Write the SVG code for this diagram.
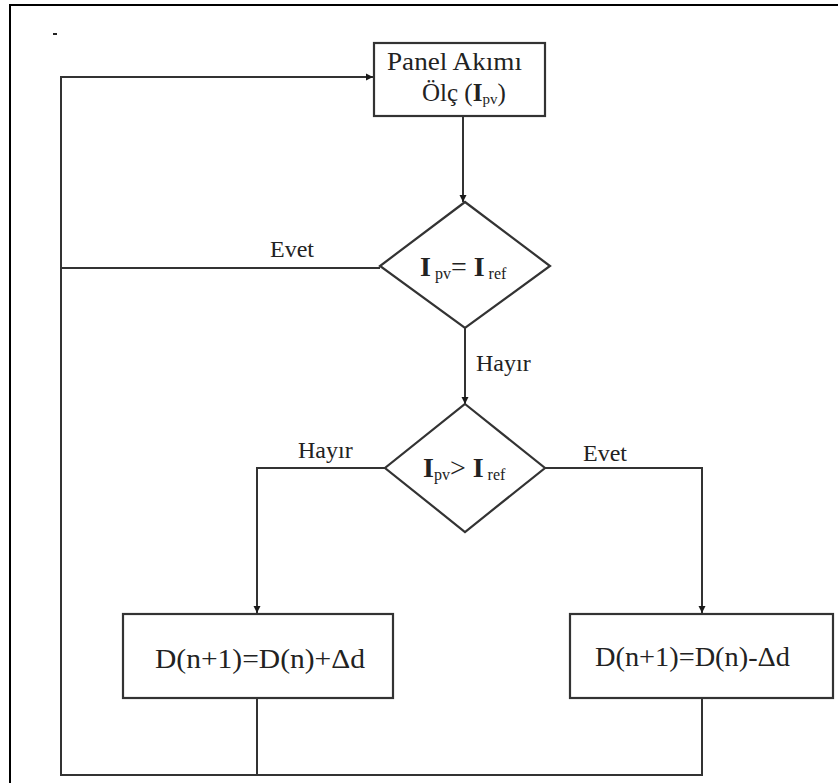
<svg xmlns="http://www.w3.org/2000/svg" width="838" height="783" viewBox="0 0 838 783">
  <defs>
    <marker id="arrow" viewBox="0 0 10 10" refX="10" refY="5" markerWidth="7" markerHeight="8" orient="auto" markerUnits="userSpaceOnUse">
      <path d="M0,0 L10,5 L0,10 z" fill="#1a1a1a"/>
    </marker>
    <style>
      .shape { fill: #ffffff; stroke: #333333; stroke-width: 2.2; }
      .wire { fill: none; stroke: #333333; stroke-width: 2; }
      text { fill: #222222; font-family: "Liberation Serif", "Times New Roman", serif; }
      .frame { fill: none; stroke: #000000; stroke-width: 2; }
    </style>
  </defs>

  <rect x="0" y="0" width="838" height="783" fill="#ffffff"/>
  <!-- outer frame: top and left edges -->
  <path class="frame" d="M838,5 H10 V783"/>
  <line x1="53" y1="34" x2="57" y2="34" stroke="#222" stroke-width="2"/>

  <g id="connectors">
    <!-- measure -> first decision -->
    <line class="wire" x1="463" y1="116" x2="463" y2="202" marker-end="url(#arrow)"/>
    <!-- first decision (no) -> second decision -->
    <line class="wire" x1="465" y1="328" x2="465" y2="404" marker-end="url(#arrow)"/>
    <!-- first decision (yes) back to loop -->
    <line class="wire" x1="380" y1="268" x2="61" y2="268"/>
    <!-- second decision (no) -> increase duty -->
    <path class="wire" d="M386,468 H257 V613" marker-end="url(#arrow)"/>
    <!-- second decision (yes) -> decrease duty -->
    <path class="wire" d="M545,468 H702 V613" marker-end="url(#arrow)"/>
    <!-- outputs back to measurement -->
    <line class="wire" x1="257" y1="698" x2="257" y2="775"/>
    <path class="wire" d="M702,698 V775 H61 V77 H373" marker-end="url(#arrow)"/>
    <!-- branch labels -->
    <text font-size="24" x="270" y="257">Evet</text>
    <text font-size="24" x="476" y="371">Hayır</text>
    <text font-size="24" x="298" y="458">Hayır</text>
    <text font-size="24" x="583" y="461">Evet</text>
  </g>

  <g id="measure">
    <rect class="shape" x="374" y="43" width="171" height="73"/>
    <text font-size="25" x="387" y="70" textLength="135" lengthAdjust="spacingAndGlyphs">Panel Akımı</text>
    <text font-size="25" x="422" y="101">Ölç (<tspan font-weight="bold">I</tspan><tspan font-size="15" dy="3">pv</tspan><tspan dy="-3">)</tspan></text>
  </g>

  <g id="decision-equal">
    <polygon class="shape" points="465,202 550,266 465,328 380,266"/>
    <text x="420" y="276" font-size="28"><tspan font-weight="bold">I</tspan><tspan font-size="16" dy="3"> pv</tspan><tspan dy="-3">= </tspan><tspan font-weight="bold">I</tspan><tspan font-size="16" dy="3"> ref</tspan></text>
  </g>

  <g id="decision-greater">
    <polygon class="shape" points="465,404 545,468 465,532 385,468"/>
    <text x="423" y="477" font-size="28"><tspan font-weight="bold">I</tspan><tspan font-size="16" dy="3">pv</tspan><tspan dy="-3">&gt; </tspan><tspan font-weight="bold">I</tspan><tspan font-size="16" dy="3"> ref</tspan></text>
  </g>

  <g id="increase">
    <rect class="shape" x="123" y="614" width="270" height="84"/>
    <text font-size="27" x="155" y="668" textLength="210" lengthAdjust="spacingAndGlyphs">D(n+1)=D(n)+Δd</text>
  </g>

  <g id="decrease">
    <rect class="shape" x="570" y="614" width="263" height="84"/>
    <text font-size="27" x="595" y="666" textLength="195" lengthAdjust="spacingAndGlyphs">D(n+1)=D(n)-Δd</text>
  </g>
</svg>
